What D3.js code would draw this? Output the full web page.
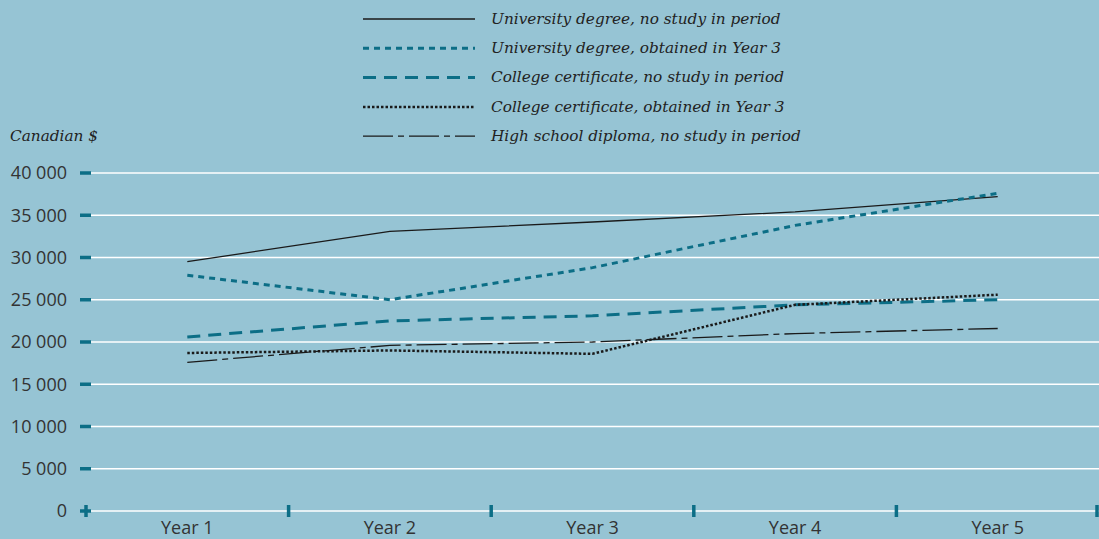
<!DOCTYPE html>
<html>
<head>
<meta charset="utf-8">
<script src="https://cdn.jsdelivr.net/npm/d3@7"></script>
<style>
  body { margin: 0; background: #96c4d4; }
  svg { display: block; }
  .tick-label { font-family: "Open Sans", "DejaVu Sans", sans-serif; font-size: 18px; fill: #333; }
  .script { font-family: "DejaVu Serif", serif; font-style: italic; font-size: 15.3px; fill: #222; }
</style>
</head>
<body>
<div id="chart"></div>
<script>
// Données
const annees = ["Year 1", "Year 2", "Year 3", "Year 4", "Year 5"];
const yTicks = [0, 5000, 10000, 15000, 20000, 25000, 30000, 35000, 40000];

const univNoStudy = [29500, 33100, 34200, 35400, 37200];
const univObtained = [27900, 25000, 28800, 33800, 37600];
const collegeNoStudy = [20600, 22500, 23100, 24400, 25000];
const collegeObtained = [18700, 19000, 18600, 24400, 25600];
const highSchool = [17600, 19600, 20000, 21000, 21600];

const seriesNames = [
  "University degree, no study in period",
  "University degree, obtained in Year 3",
  "College certificate, no study in period",
  "College certificate, obtained in Year 3",
  "High school diploma, no study in period"
];

const teal = "#0c6e86";
const styles = [
  { color: "#1a1a1a", width: 1.3, dash: null },
  { color: teal, width: 3, dash: "6,5" },
  { color: teal, width: 3, dash: "13,8" },
  { color: "#1a1a1a", width: 2.5, dash: "2.5,2" },
  { color: "#1a1a1a", width: 1.3, dash: "30,5,6,5" }
];

const series = [univNoStudy, univObtained, collegeNoStudy, collegeObtained, highSchool]
  .map((vals, i) => ({ name: seriesNames[i], values: vals, style: styles[i] }));

//------Svg
const W = 1099, H = 539;
const svg = d3.select("#chart").append("svg")
  .attr("width", W).attr("height", H);

const margin = { left: 86, right: 0, top: 173, bottom: 28 };

const xScale = d3.scaleBand()
  .domain(annees)
  .range([margin.left, W - margin.right]);

const yScale = d3.scaleLinear()
  .domain([0, 40000])
  .range([H - margin.bottom, margin.top]);

const fmt = d => d3.format(",")(d).replace(/,/g, " ");

//------Grille blanche
svg.append("g")
  .selectAll("line")
  .data(yTicks)
  .join("line")
  .attr("x1", margin.left)
  .attr("x2", W)
  .attr("y1", d => yScale(d))
  .attr("y2", d => yScale(d))
  .attr("stroke", "#fff")
  .attr("stroke-width", 1.5);

//------Axe y : étiquettes et petits traits
svg.append("g")
  .selectAll("text")
  .data(yTicks)
  .join("text")
  .attr("class", "tick-label")
  .attr("x", 67)
  .attr("y", d => yScale(d))
  .attr("dy", "0.36em")
  .attr("text-anchor", "end")
  .text(fmt);

svg.append("g")
  .selectAll("line")
  .data(yTicks)
  .join("line")
  .attr("x1", 80).attr("x2", 91)
  .attr("y1", d => yScale(d))
  .attr("y2", d => yScale(d))
  .attr("stroke", teal)
  .attr("stroke-width", 3.5);

//------Axe x : traits entre catégories
const xBounds = annees.map(a => xScale(a)).concat([xScale(annees[annees.length - 1]) + xScale.bandwidth()]);
svg.append("g")
  .selectAll("line")
  .data(xBounds)
  .join("line")
  .attr("x1", d => Math.min(d, W - 2))
  .attr("x2", d => Math.min(d, W - 2))
  .attr("y1", yScale(0) - 6)
  .attr("y2", yScale(0) + 6)
  .attr("stroke", teal)
  .attr("stroke-width", 3.5);

svg.append("g")
  .selectAll("text")
  .data(annees)
  .join("text")
  .attr("class", "tick-label")
  .attr("x", d => xScale(d) + xScale.bandwidth() / 2)
  .attr("y", 534)
  .attr("text-anchor", "middle")
  .text(d => d);

//------Lignes
const line = d3.line()
  .x((d, i) => xScale(annees[i]) + xScale.bandwidth() / 2)
  .y(d => yScale(d));

svg.append("g")
  .selectAll("path")
  .data(series)
  .join("path")
  .attr("fill", "none")
  .attr("d", d => line(d.values))
  .attr("stroke", d => d.style.color)
  .attr("stroke-width", d => d.style.width)
  .attr("stroke-dasharray", d => d.style.dash);

//------Légende
const leg = svg.append("g");
series.forEach((s, i) => {
  const y = 19 + i * 29.3;
  leg.append("line")
    .attr("x1", 363).attr("x2", 475)
    .attr("y1", y).attr("y2", y)
    .attr("stroke", s.style.color)
    .attr("stroke-width", s.style.width)
    .attr("stroke-dasharray", s.style.dash);
  leg.append("text")
    .attr("class", "script")
    .attr("x", 491)
    .attr("y", y)
    .attr("dy", "0.32em")
    .text(s.name);
});

svg.append("text")
  .attr("class", "script")
  .attr("x", 10)
  .attr("y", 141)
  .text("Canadian $");
</script>
</body>
</html>
